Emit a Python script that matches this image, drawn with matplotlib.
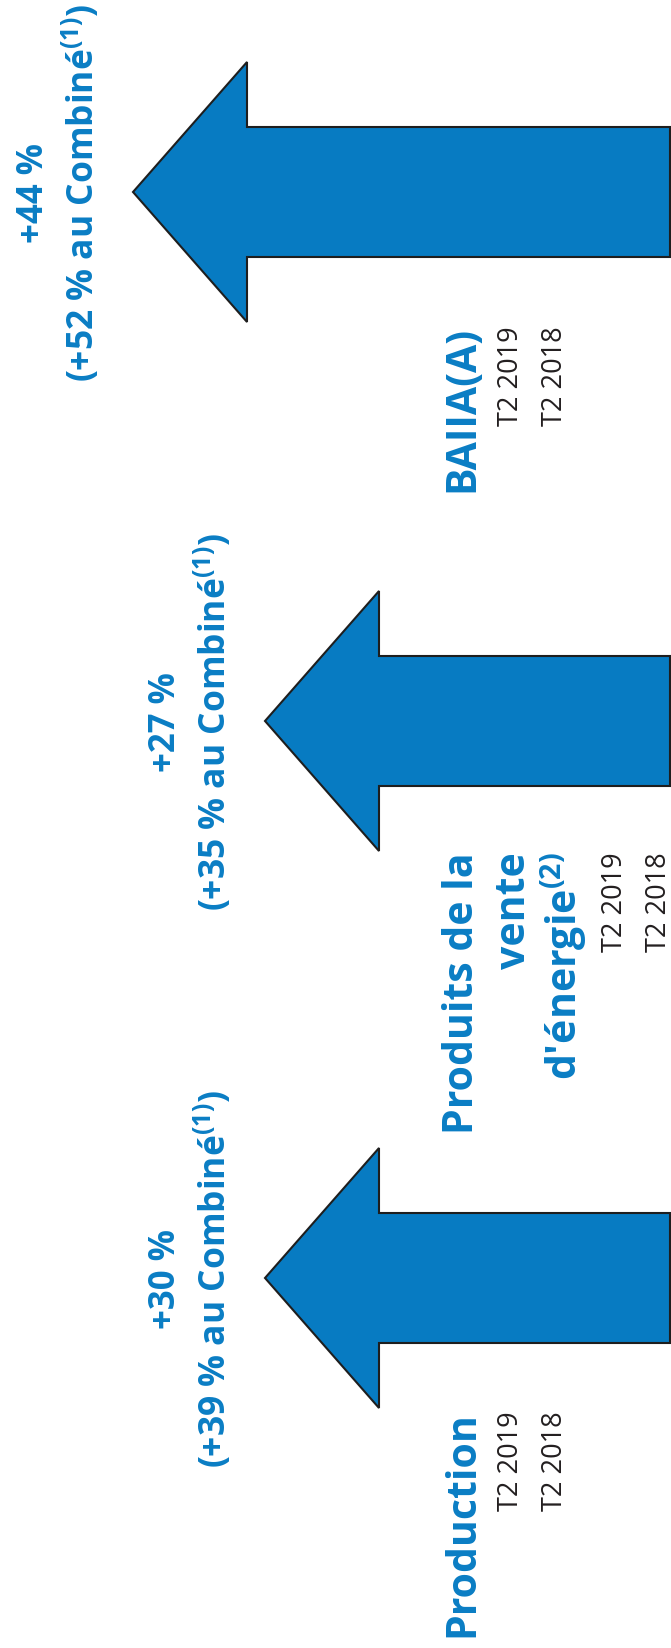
import matplotlib.pyplot as plt
from matplotlib.patches import FancyArrow

plt.rcParams['font.family'] = ['Open Sans', 'DejaVu Sans']
plt.rcParams['mathtext.fontset'] = 'custom'
plt.rcParams['mathtext.rm'] = 'Open Sans'
plt.rcParams['mathtext.bf'] = 'Open Sans:bold'

# values shown on the slide (bottom group first)
metrics = [['Production'],
           ['Produits de la', 'vente', r"d'énergie$^{\mathbf{(2)}}$"],
           ['BAIIA(A)']]
change_q2 = ['+30 %', '+27 %', '+44 %']
change_combined = ['+39 %', '+35 %', '+52 %']
periods = ['T2 2019', 'T2 2018']

# arrow geometry, in pixels (y grows downward)
arrow_mid = [1279, 722, 193]
arrow_tip = [265, 265, 133]
arrow_end = 670
label_top = [1411, 852, 326]
pct_base = [175, 175, 43]

blue = '#077bc2'
txt_blue = '#0a7dc4'
dark = '#231f20'

fig = plt.figure(figsize=(6.71, 16.49), dpi=100)
ax = fig.add_axes([0, 0, 1, 1])
ax.set_xlim(0, 671)
ax.set_ylim(1649, 0)
ax.axis('off')

for i in range(3):
    cy = arrow_mid[i]
    ax.add_patch(FancyArrow(arrow_end, cy, arrow_tip[i] - arrow_end, 0,
                            width=130, head_width=260, head_length=114,
                            length_includes_head=True, facecolor=blue,
                            edgecolor='#1e1e1e', linewidth=1.5, joinstyle='miter'))

    # growth figures, centred on the arrow
    ax.text(pct_base[i], cy, change_q2[i], rotation=90, rotation_mode='anchor',
            ha='center', va='baseline', color=txt_blue, fontsize=25, fontweight='bold')
    ax.text(pct_base[i] + 51, cy,
            '(' + change_combined[i] + r' au Combiné$^{\mathbf{(1)}}$)',
            rotation=90, rotation_mode='anchor', ha='center', va='baseline',
            color=txt_blue, fontsize=25.5, fontweight='bold')

    # metric name and periods
    xb = 473
    for line in metrics[i]:
        ax.text(xb, label_top[i], line, rotation=90, rotation_mode='anchor',
                ha='right', va='baseline', color=txt_blue, fontsize=29.5, fontweight='bold')
        xb += 52
    xb -= 7
    for p in periods:
        ax.text(xb, label_top[i], p, rotation=90, rotation_mode='anchor',
                ha='right', va='baseline', color=dark, fontsize=19.5)
        xb += 44

fig.savefig('out.png', dpi=100)
